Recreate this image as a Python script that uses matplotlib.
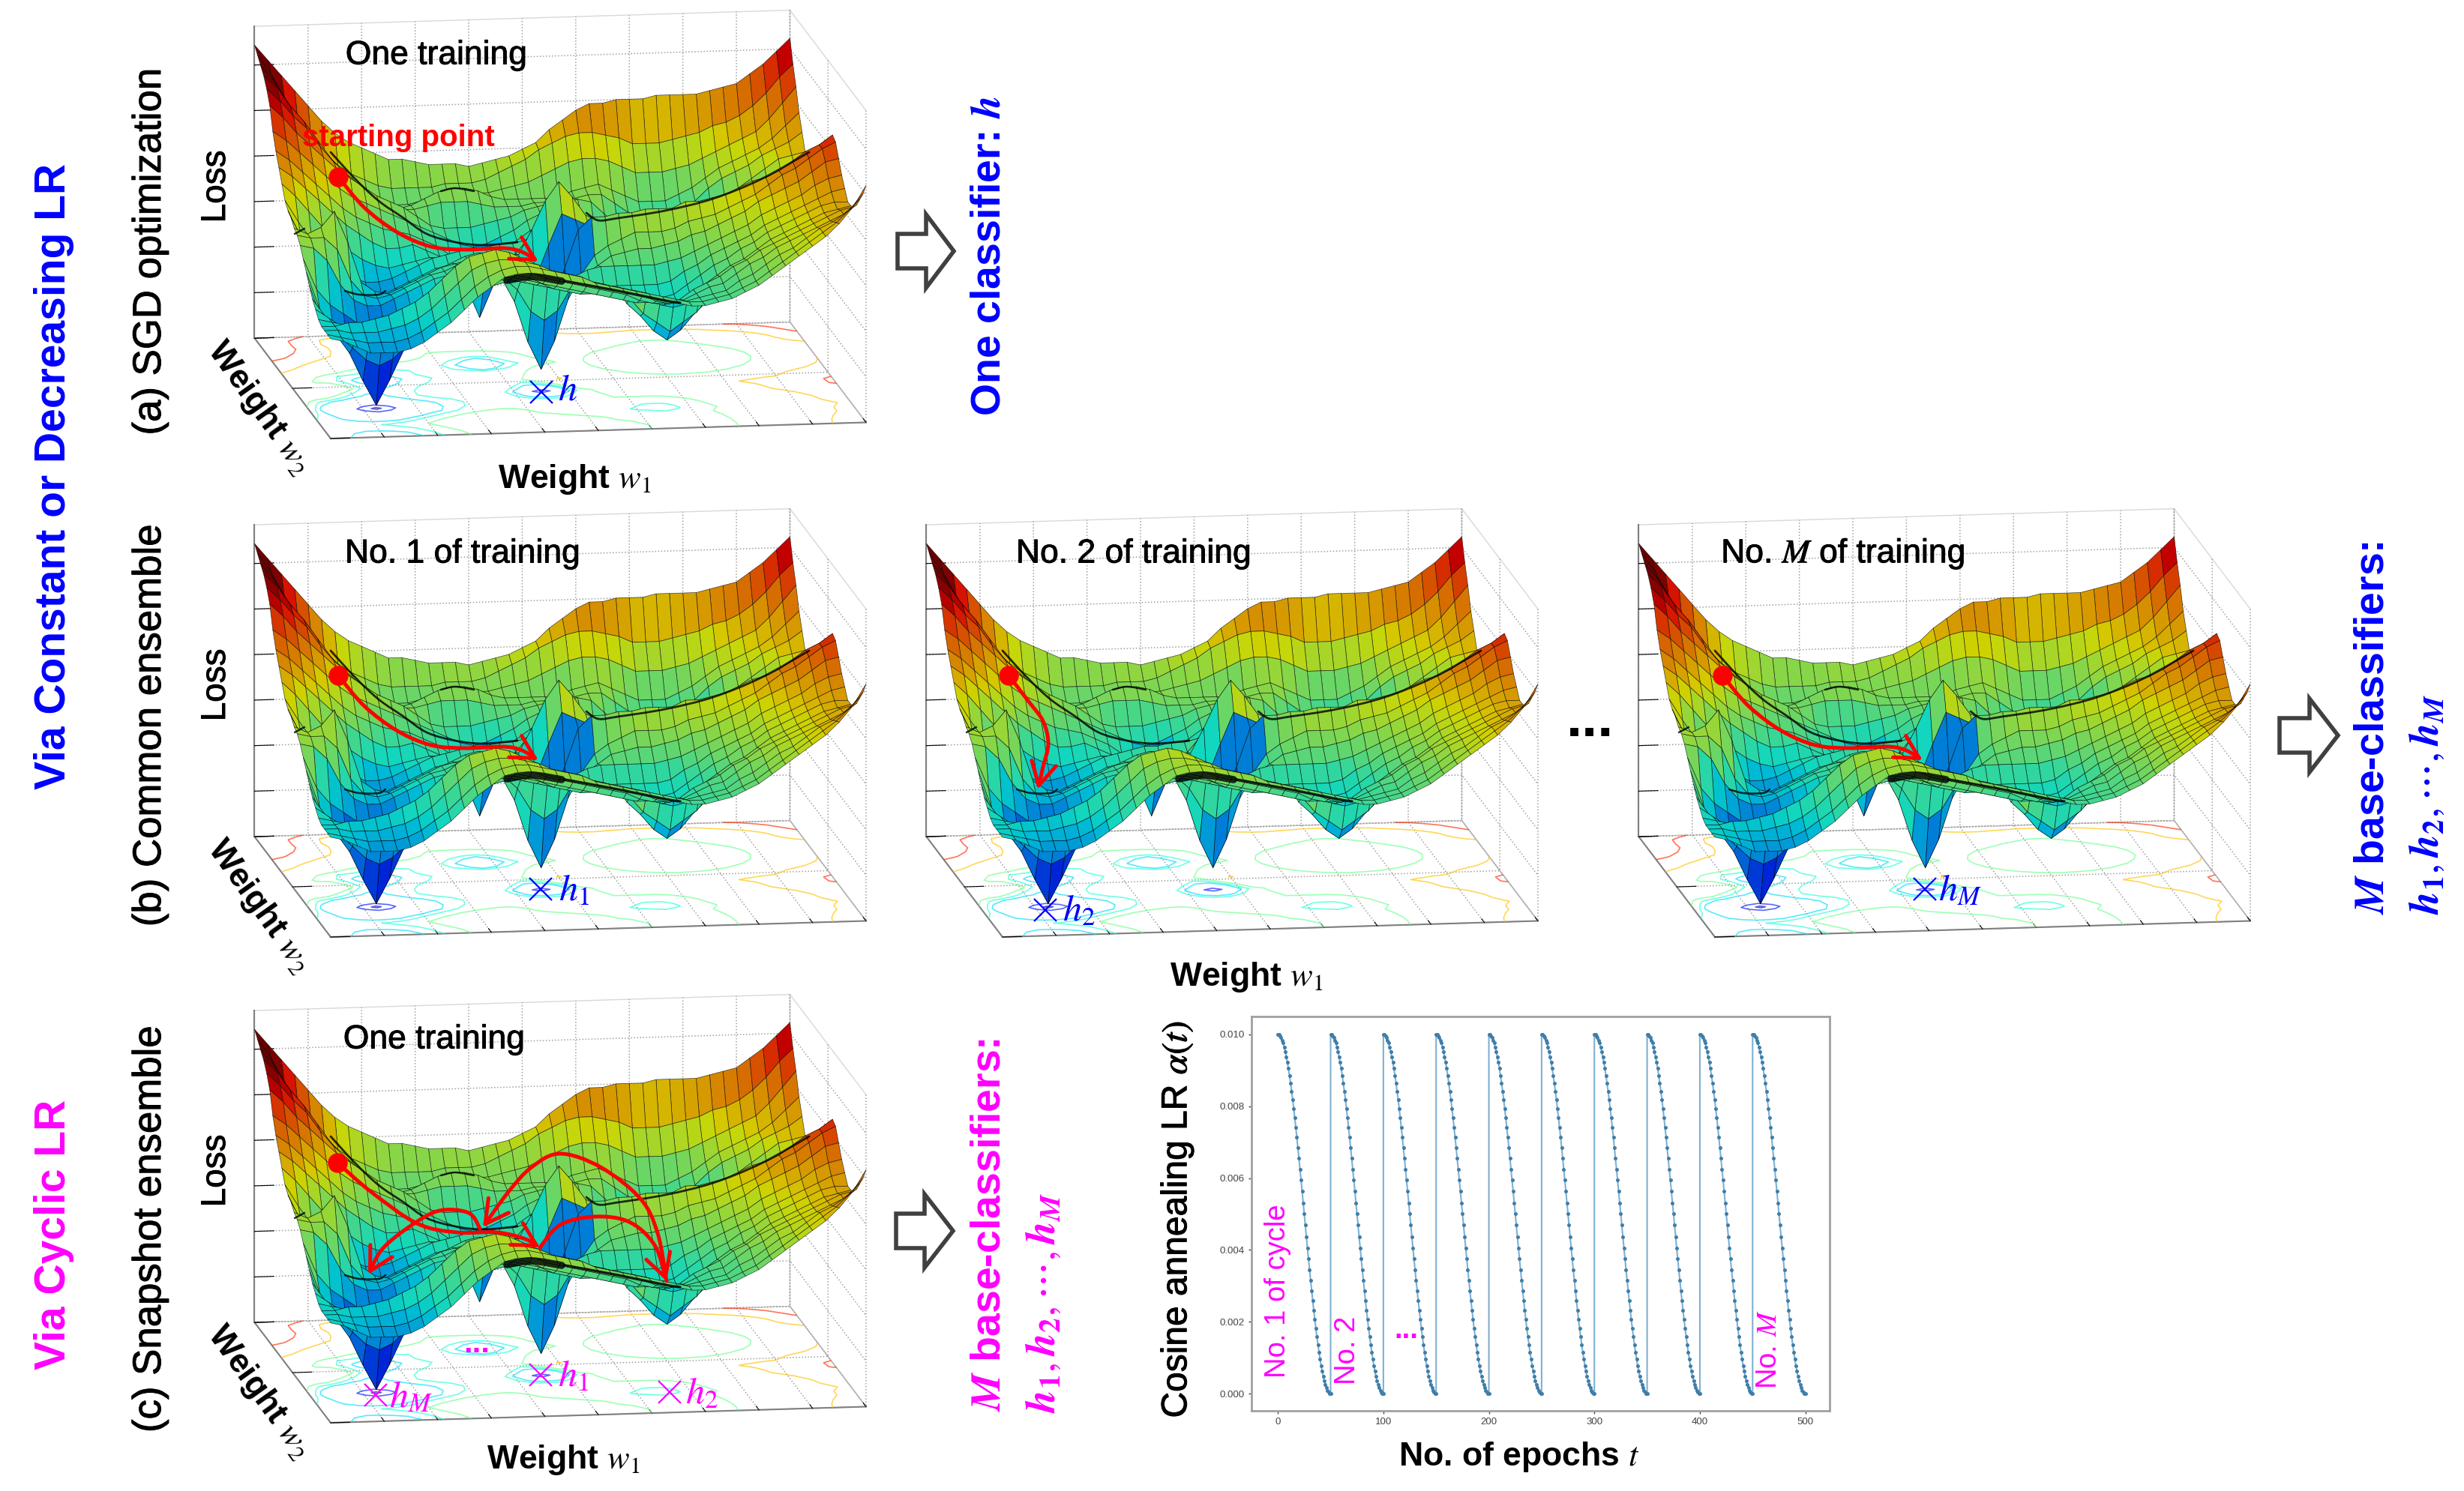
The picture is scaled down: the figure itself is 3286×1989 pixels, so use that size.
import matplotlib

matplotlib.use("Agg")

import matplotlib.pyplot as plt
import matplotlib.patheffects as pe
import numpy as np
from matplotlib.colors import Normalize
from matplotlib.patches import FancyArrowPatch, PathPatch, Polygon
from matplotlib.path import Path
from mpl_toolkits.mplot3d import proj3d

plt.rcParams['font.family'] = ['Liberation Sans', 'DejaVu Sans']
plt.rcParams['mathtext.fontset'] = 'stix'

W, H = 3287, 1989
DPI = 100

# loss height in percent of the box
# one row per w2 step (front to back), one column per w1 step
loss_percent = [
    [32,31,29,27,27,27,28,30,33,36, 40,44,47,50,51,51,50,49,48,47, 46,45,44,43,42,41,40,39,39,40, 41,43,45,48,51,54,57,60,64,69, 76],
    [32,31,30,29,29,29,30,32,35,38, 42,46,49,51,52,52,51,50,49,48, 46,45,44,43,42,41,40,39,39,40, 41,43,45,48,51,54,57,60,63,67, 72],
    [32,32,31,31,31,32,33,35,38,42, 46,50,52,53,53,52,51,49,48,47, 45,44,43,42,41,39,38,38,39,40, 41,44,46,49,52,54,57,60,62,65, 69],
    [32,32,33,33,34,35,37,39,42,46, 50,53,54,55,54,52,50,47,46,44, 44,43,41,40,39,37,36,37,39,41, 42,45,48,50,53,55,57,59,61,63, 66],
    [33,32,31,30,29,29,30,33,37,41, 45,48,50,50,49,48,46,44,43,42, 41,40,39,38,36,35,35,36,39,41, 43,46,48,51,53,55,57,59,61,63, 64],
    [35,32,29,27,25,24,25,27,30,34, 38,42,44,45,45,44,43,41,40,39, 38,37,36,35,34,34,33,34,36,39, 42,45,47,50,53,55,57,59,61,62, 63],
    [37,31,25,21,17,15,17,21,25,28, 31,35,39,41,42,42,41,40,38,37, 36,36,36,36,35,34,34,35,38,41, 44,46,49,51,54,56,58,60,62,63, 63],
    [40,28,24,18, 9, 1, 9,18,24,28, 30,32,36,39,40,40,39,38,37,37, 37,37,37,37,37,37,37,38,41,43, 46,48,50,52,55,57,59,61,63,65, 66],
    [43,31,25,21,17,15,17,21,25,28, 31,33,35,37,37,38,38,37,36,37, 39,41,42,42,42,42,42,43,44,46, 48,50,52,54,57,59,61,63,66,68, 69],
    [46,36,31,28,25,24,25,28,30,32, 34,35,37,38,39,38,34,27,24,27, 34,38,41,44,45,46,46,47,48,50, 51,53,55,57,60,62,64,66,69,72, 73],
    [49,48,44,36,31,29,29,31,33,35, 37,38,40,42,41,37,29,16, 7,16, 29,37,43,46,48,50,50,50,51,53, 54,55,57,59,61,64,67,69,72,75, 77],
    [51,50,50,46,36,31,30,31,33,35, 37,38,40,42,42,39,34,27,24,27, 38,50,54,54,55,55,56,56,56,58, 58,59,60,62,64,65,67,70,73,75, 78],
    [52,50,52,57,47,34,31,30,32,34, 36,38,39,40,42,42,39,33,33,44, 54,52,50,51,52,52,52,53,50,50, 51,55,56,57,59,61,62,64,67,71, 74],
    [54,46,44,47,38,31,29,28,30,32, 34,36,38,40,41,40,40,40,48,57, 63,58,52,50,51,51,49,46,44,43, 44,46,49,53,55,57,60,62,65,68, 70],
    [55,46,41,37,33,29,27,27,29,31, 33,35,36,37,37,37,37,39,44,52, 57,52,49,50,47,43,39,35,32,31, 32,35,39,43,47,50,53,57,60,63, 66],
    [57,50,44,38,34,32,30,30,31,33, 35,37,38,39,40,40,41,41,42,46, 50,48,48,45,41,34,28,23,20,19, 20,23,28,34,41,45,48,52,56,60, 63],
    [61,57,52,47,43,39,36,34,33,34, 35,36,36,34,30,24,30,35,39,43, 46,47,46,42,35,27,21,16,13,10, 13,16,21,27,35,42,46,50,54,58, 62],
    [65,62,58,54,50,46,43,40,38,38, 39,37,35,31,25,15,25,31,35,38, 40,43,45,41,33,25,18,14, 9, 6,  9,14,18,25,33,41,45,49,53,57, 61],
    [69,66,62,58,54,50,47,45,43,42, 41,39,37,34,30,25,30,35,38,41, 43,45,46,42,35,27,21,16,13,10, 13,16,21,27,35,42,46,50,54,58, 61],
    [74,71,67,63,59,55,52,50,48,46, 44,42,40,38,36,35,36,38,40,43, 45,47,48,45,41,34,28,23,20,19, 20,23,28,34,41,45,48,52,55,58, 61],
    [81,77,72,68,64,60,57,54,51,49, 47,44,41,40,40,40,41,42,43,45, 46,47,47,48,47,43,39,35,32,31, 32,35,39,43,47,50,53,56,59,60, 61],
    [85,81,76,72,66,61,57,53,49,47, 45,45,46,47,47,47,46,45,45,45, 46,46,45,47,48,48,45,42,40,39, 40,42,45,49,52,54,56,59,61,63, 66],
    [88,84,78,73,67,61,56,51,47,45, 44,45,47,49,50,50,49,47,46,46, 46,46,46,48,49,50,48,46,44,44, 44,46,48,51,54,56,58,60,63,67, 71],
    [90,85,78,71,65,59,54,50,47,45, 44,44,45,46,47,47,47,47,48,49, 50,52,54,56,57,57,56,54,52,52, 52,53,54,56,58,60,62,64,68,73, 78],
    [92,86,78,71,65,60,56,53,51,49, 48,48,48,48,49,49,49,50,52,54, 56,59,61,63,64,64,63,62,60,60, 60,61,62,63,65,66,68,71,75,80, 84],
    [94,89,84,79,74,69,65,62,60,58, 56,56,55,54,54,54,53,54,55,56, 58,60,64,67,70,72,72,73,73,73, 74,74,74,74,75,76,77,80,83,87, 91],
]

# one annealing cycle, learning rate per epoch
cycle_lr = [0.01000, 0.00999, 0.00996, 0.00991, 0.00984, 0.00976, 0.00965, 0.00952, 0.00938, 0.00922,
            0.00905, 0.00885, 0.00865, 0.00842, 0.00819, 0.00794, 0.00768, 0.00741, 0.00713, 0.00684,
            0.00655, 0.00624, 0.00594, 0.00563, 0.00531, 0.00500, 0.00469, 0.00437, 0.00406, 0.00376,
            0.00345, 0.00316, 0.00287, 0.00259, 0.00232, 0.00206, 0.00181, 0.00158, 0.00136, 0.00115,
            0.00096, 0.00078, 0.00062, 0.00048, 0.00035, 0.00025, 0.00016, 0.00009, 0.00004, 0.00001, 0.00000]
n_cycles = 10
epochs_per_cycle = 50

x_ticks = [0, 100, 200, 300, 400, 500]
y_ticks = [0.000, 0.002, 0.004, 0.006, 0.008, 0.010]
contour_levels = [0.04, 0.13, 0.30, 0.345, 0.42, 0.62, 0.76]

# training routes on the pictures, pixels from the front corner of the box
route_long = [(10, -349), (45, -308), (89, -275), (134, -256), (179, -252), (230, -254), (255, -249), (277, -236)]
route_short = [(8, -349), (35, -314), (54, -288), (61, -258), (54, -227), (47, -197)]
route_first = [(9, -347), (54, -308), (115, -266), (168, -254), (222, -254), (260, -245), (279, -234)]
route_up_1 = [(279, -234), (306, -264), (352, -275), (398, -268), (432, -237), (448, -189)]
route_up_2 = [(448, -189), (436, -253), (413, -299), (360, -341), (306, -359), (268, -341), (237, -308), (203, -261)]
route_up_3 = [(199, -259), (184, -280), (145, -283), (107, -263), (69, -232), (50, -198)]

# black creases where the mesh folds away from the viewer
crease_back = [(0, -382), (32, -347), (64, -317), (96, -295), (128, -273), (166, -262), (204, -258), (249, -262)]
crease_ridge = [(341, -301), (357, -291), (383, -294), (446, -304), (510, -320), (574, -346), (638, -382)]
crease_blob = [(235, -211), (268, -216), (308, -210)]
crease_front = [(312, -210), (383, -197), (446, -184), (466, -181)]
crease_arc_left = [(19, -197), (38, -192), (64, -192), (73, -197)]
crease_arc_back = [(147, -330), (166, -334), (191, -330)]
crease_notch = [(-48, -273), (-35, -280)]

BLUE = '#0000ff'
MAGENTA = '#ff00ff'
RED = '#ff0000'

fig = plt.figure(figsize=(W / DPI, H / DPI), dpi=DPI)

Z = np.array(loss_percent) / 100.0
u = np.linspace(0, 1, Z.shape[1])
v = np.linspace(0, 1, Z.shape[0])
U, V = np.meshgrid(u, v)

# the picture paints the front of the tall peak blue and the far right well cyan
color_z = Z.copy()
color_z[10:12, 18:22] = np.minimum(color_z[10:12, 18:22], 0.24)
color_z[15:20, 25:34] += 0.16
color_norm = Normalize(0, 0.88)
face_colors = plt.get_cmap('jet')(color_norm(color_z))
face_colors[..., :3] *= 0.84

# the floor contours of the far right well are only one ring in the picture
floor_z = Z.copy()
floor_z[13:22, 24:35] = np.maximum(floor_z[13:22, 24:35], 0.36)


def project(ax, x, y, z):
    xs, ys, _ = proj3d.proj_transform(x, y, z, ax.get_proj())
    return ax.transData.transform((xs, ys))


def landscape(front):
    ax = fig.add_axes([0.1, 0.1, 1000 / W, 1000 / H], projection='3d')
    ax.set_proj_type('ortho')
    ax.view_init(elev=11.5, azim=-98.6)
    ax.set_box_aspect((722, 679, 424.5))
    ax.set_xlim(0, 1, view_margin=0)
    ax.set_ylim(0, 1, view_margin=0)
    ax.set_zlim(0, 1, view_margin=0)
    ax.computed_zorder = False
    ax.patch.set_alpha(0)

    ax.set_xticks(np.arange(0, 1.01, 0.1))
    ax.set_yticks([0, 0.5, 1])
    ax.set_zticks(np.arange(0, 1.01, 0.146))
    ax.set_xticklabels([])
    ax.set_yticklabels([])
    ax.set_zticklabels([])
    for axis in (ax.xaxis, ax.yaxis, ax.zaxis):
        axis.set_pane_color((1, 1, 1, 1))
        axis.pane.set_edgecolor('#d8d8d8')
        axis.line.set_color('#808080')
        axis.line.set_linewidth(1.5)
        axis._axinfo['grid'].update(color='#a0a0a0', linewidth=1.1, linestyle=':')
        axis._axinfo['tick'].update(color='#555555', outward_factor=0.45, inward_factor=0.0)

    ax.contour(U, V, floor_z, levels=contour_levels, zdir='z', offset=0, cmap='jet', norm=color_norm,
               linewidths=1.2, alpha=0.65, zorder=1)
    surf = ax.plot_surface(U, V, Z, rstride=1, cstride=1, facecolors=face_colors, shade=False, zorder=2)
    surf.set_edgecolor((0, 0, 0, 0.7))
    surf.set_linewidth(0.5)

    # fit the box to the size and place it has in the picture
    ax.apply_aspect()
    p0 = project(ax, 0, 0, 0)
    p1 = project(ax, 1, 0, 0)
    size = 1000 * 714.3 / np.hypot(*(p1 - p0))
    ax.set_position([0.1, 0.1, size / W, size / H])
    ax.apply_aspect()
    p0 = project(ax, 0, 0, 0)
    left = 0.1 * W + front[0] - p0[0]
    bottom = 0.1 * H + (H - front[1]) - p0[1]
    ax.set_position([left / W, bottom / H, size / W, size / H])
    return ax


front_a = (441, 585)
front_b1 = (441, 1250)
front_b2 = (1337, 1250)
front_b3 = (2287, 1250)
front_c = (441, 1898)

for front in (front_a, front_b1, front_b2, front_b3, front_c):
    landscape(front)

# everything drawn on top is placed in picture pixels
top = fig.add_axes([0, 0, 1, 1], zorder=10)
top.set_xlim(0, W)
top.set_ylim(H, 0)
top.axis('off')
top.patch.set_alpha(0)


def label(x, y, s, size=32, color='black', weight='normal', rotation=0):
    t = top.text(x, y, s, fontsize=size, color=color, fontweight=weight, rotation=rotation,
                 ha='center', va='center', zorder=7)
    if weight == 'normal' and color == 'black':
        t.set_path_effects([pe.withStroke(linewidth=0.7, foreground='black')])


def smooth_path(points):
    p = np.array(points, dtype=float)
    verts = [p[0]]
    codes = [Path.MOVETO]
    for i in range(len(p) - 1):
        before = p[max(i - 1, 0)]
        after = p[min(i + 2, len(p) - 1)]
        verts += [p[i] + (p[i + 1] - before) / 6, p[i + 1] - (after - p[i]) / 6, p[i + 1]]
        codes += [Path.CURVE4] * 3
    return Path(verts, codes)


def moved(front, points):
    return [(front[0] + dx, front[1] + dy) for dx, dy in points]


def route(front, points, dot=False):
    pts = moved(front, points)
    top.add_patch(FancyArrowPatch(path=smooth_path(pts), arrowstyle='->,head_length=0.55,head_width=0.3',
                                  mutation_scale=40, color=RED, lw=3.6, zorder=5))
    if dot:
        top.plot(pts[0][0], pts[0][1], 'o', color=RED, ms=18, zorder=6)


def creases(front):
    for points, width in ((crease_back, 2), (crease_ridge, 2), (crease_blob, 7), (crease_front, 2.5),
                          (crease_arc_left, 1.8), (crease_arc_back, 1.8), (crease_notch, 1.8)):
        top.add_patch(PathPatch(smooth_path(moved(front, points)), fc='none', ec='black', lw=width,
                                alpha=0.8, capstyle='round', zorder=4))


def cross(front, dx, dy, color):
    top.plot(front[0] + dx, front[1] + dy, 'x', color=color, ms=22, mew=1.6, zorder=6)


def hollow_arrow(x0, x1, x2, cy):
    top.add_patch(Polygon([(x0, cy - 23), (x1, cy - 23), (x1, cy - 49), (x2, cy), (x1, cy + 49),
                           (x1, cy + 23), (x0, cy + 23)], closed=True, fc='white', ec='#404040', lw=4))


for front in (front_a, front_b1, front_b2, front_b3, front_c):
    creases(front)

route(front_a, route_long, dot=True)
route(front_b1, route_long, dot=True)
route(front_b2, route_short, dot=True)
route(front_b3, route_long, dot=True)
route(front_c, route_first, dot=True)
route(front_c, route_up_1)
route(front_c, route_up_2)
route(front_c, route_up_3)

# left hand titles
label(72, 635, 'Via Constant or Decreasing LR', 41, BLUE, 'bold', 90)
label(72, 1647, 'Via Cyclic LR', 41, MAGENTA, 'bold', 90)
label(200, 336, '(a) SGD optimization', 38, rotation=90)
label(200, 968, '(b) Common ensemble', 38, rotation=90)
label(200, 1640, '(c) Snapshot ensemble', 38, rotation=90)

for front in (front_a, front_b1, front_c):
    label(front[0] - 153, front[1] - 336, 'Loss', 33, rotation=90)
    label(front[0] - 96, front[1] - 41, r'Weight $w_2$', 32, weight='bold', rotation=-54.5)

label(front_a[0] + 141, front_a[1] - 511, 'One training')
label(front_b1[0] + 176, front_b1[1] - 511, 'No. 1 of training')
label(front_b2[0] + 175, front_b2[1] - 511, 'No. 2 of training')
label(front_b3[0] + 171, front_b3[1] - 511, r'No. $M$ of training')
label(front_c[0] + 138, front_c[1] - 511, 'One training')
label(front_a[0] + 90, front_a[1] - 401, 'starting point', 29, RED, 'bold')

label(front_a[0] + 325, front_a[1] + 55, r'Weight $w_1$', 32, weight='bold')
label(front_b2[0] + 325, front_b2[1] + 54, r'Weight $w_1$', 32, weight='bold')
label(front_c[0] + 310, front_c[1] + 50, r'Weight $w_1$', 32, weight='bold')

# classifiers marked on the floors
cross(front_a, 281, -62, BLUE)
label(front_a[0] + 316, front_a[1] - 65, r'$h$', 36, BLUE)
cross(front_b1, 280, -64, BLUE)
label(front_b1[0] + 324, front_b1[1] - 62, r'$h_1$', 36, BLUE)
cross(front_b2, 57, -36, BLUE)
label(front_b2[0] + 102, front_b2[1] - 35, r'$h_2$', 36, BLUE)
cross(front_b3, 280, -64, BLUE)
label(front_b3[0] + 327, front_b3[1] - 62, r'$h_M$', 36, BLUE)
cross(front_c, 60, -37, MAGENTA)
label(front_c[0] + 107, front_c[1] - 34, r'$h_M$', 36, MAGENTA)
cross(front_c, 280, -64, MAGENTA)
label(front_c[0] + 323, front_c[1] - 62, r'$h_1$', 36, MAGENTA)
cross(front_c, 452, -41, MAGENTA)
label(front_c[0] + 495, front_c[1] - 39, r'$h_2$', 36, MAGENTA)
label(front_c[0] + 195, front_c[1] - 105, '...', 30, MAGENTA, 'bold')

# outcome labels
hollow_arrow(1197, 1235, 1272, 335)
hollow_arrow(3040, 3080, 3118, 981)
hollow_arrow(1195, 1233, 1271, 1642)
label(2121, 962, '...', 55, weight='bold')

h_list = r'$\mathbfit{h}_{\mathbf{1}},\mathbfit{h}_{\mathbf{2}},\cdots,\mathbfit{h}_{\mathbfit{M}}$'
label(1320, 341, r'One classifier: $\mathbfit{h}$', 40, BLUE, 'bold', 90)
label(3165, 971, r'$\mathbfit{M}$ base-classifiers:', 40, BLUE, 'bold', 90)
label(3238, 1073, h_list, 40, BLUE, 'bold', 90)
label(1320, 1634, r'$\mathbfit{M}$ base-classifiers:', 40, MAGENTA, 'bold', 90)
label(1393, 1738, h_list, 40, MAGENTA, 'bold', 90)

# learning rate chart
chart = fig.add_axes([1669 / W, (H - 1882) / H, (2440 - 1669) / W, (1882 - 1356) / H])
epochs = np.concatenate([np.arange(epochs_per_cycle + 1) + c * epochs_per_cycle for c in range(n_cycles)])
lr = np.concatenate([cycle_lr for c in range(n_cycles)])
chart.plot(epochs, lr, '-', color='#7fb0d0', lw=1.5)
chart.plot(epochs, lr, 'o', color='#3f7ea8', ms=3.6, mew=0)
chart.set_xlim(-25, 523)
chart.set_ylim(-0.00048, 0.0105)
chart.set_xticks(x_ticks)
chart.set_yticks(y_ticks)
chart.set_yticklabels(['%.3f' % t for t in y_ticks])
chart.tick_params(labelsize=9.5, colors='#444444', length=3, width=1)
for spine in chart.spines.values():
    spine.set_color('#a0a0a0')
    spine.set_linewidth(2)

label(1570, 1627, r'Cosine annealing LR $\alpha(t)$', 34.5, rotation=90)
label(2026, 1944, r'No. of epochs $t$', 32, weight='bold')
label(1704, 1722, 'No. 1 of cycle', 27.5, MAGENTA, rotation=90)
label(1797, 1801, 'No. 2', 27.5, MAGENTA, rotation=90)
label(1875, 1775, '...', 27.5, MAGENTA, 'bold')
label(2359, 1800, r'No. $M$', 27.5, MAGENTA, rotation=90)

fig.savefig('out.png', dpi=DPI)
